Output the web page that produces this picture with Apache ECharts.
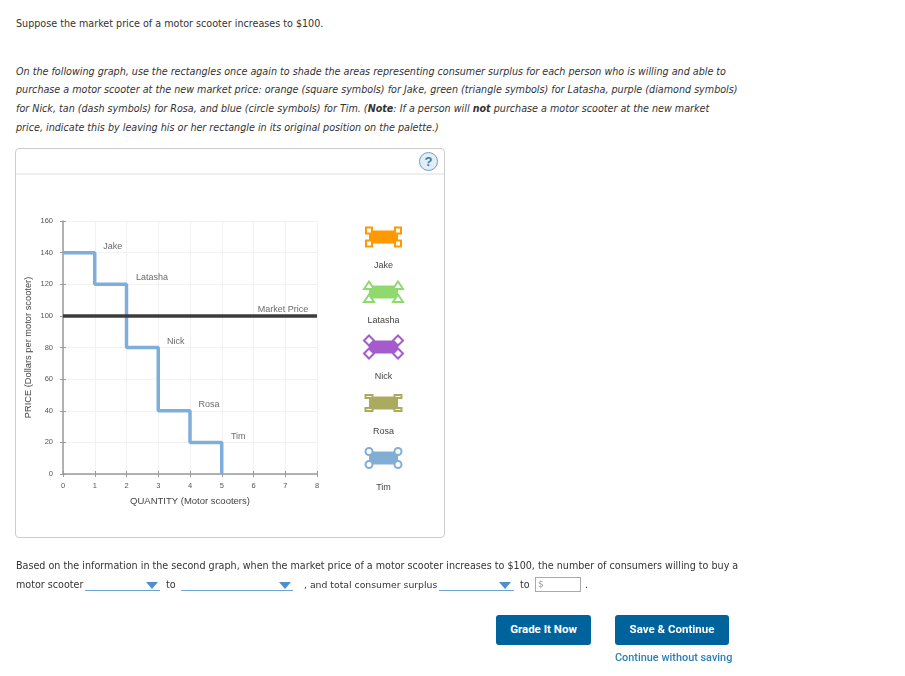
<!DOCTYPE html>
<html>
<head>
<meta charset="utf-8">
<script src="https://cdn.jsdelivr.net/npm/echarts@6/dist/echarts.min.js"></script>
<style>
  html, body { margin: 0; padding: 0; background: #fff; }
  body { width: 905px; height: 676px; position: relative; overflow: hidden; font-family: "DejaVu Sans", sans-serif; color: #333; filter: blur(0.35px); }
  .line { position: absolute; left: 16px; font-size: 9.6px; line-height: 14px; white-space: nowrap; }
  .it { font-style: italic; }
  #panel { position: absolute; left: 15px; top: 148px; width: 428px; height: 388px; border: 1px solid #ccc; border-radius: 4px; }
  #panelHead { position: absolute; left: 0; right: 0; top: 24px; border-top: 2px solid #eee; }
  #help { position: absolute; left: 403px; top: 3px; width: 17px; height: 17px; border: 1.5px solid #6f9fc8; border-radius: 50%; background: #e3edf6; color: #3b78a8; font: bold 13px/17px "Liberation Sans", sans-serif; text-align: center; }
  #chart { position: absolute; left: 0; top: 0; width: 905px; height: 676px; }
  .drop { position: absolute; top: 590px; height: 0; border-top: 1px solid #6fa3d4; }
  .arrow { position: absolute; top: 582px; width: 0; height: 0; border-left: 6px solid transparent; border-right: 6px solid transparent; border-top: 7px solid #4f90cc; }
  #amount { position: absolute; left: 535px; top: 577px; width: 42px; height: 13px; border: 1px solid #aaa; font-size: 9px; line-height: 13px; color: #999; padding-left: 2px; }
  .btn { position: absolute; top: 615px; height: 30px; background: #00639b; border-radius: 3px; color: #fff; font: bold 11.5px/29px Roboto, sans-serif; text-align: center; }
  #skip { position: absolute; left: 615px; top: 651px; font: 500 10.9px/13px Roboto, sans-serif; color: #2d7fb3; white-space: nowrap; }
</style>
</head>
<body>
  <div class="line" style="top:17px">Suppose the market price of a motor scooter increases to $100.</div>
  <div class="line it" style="top:65px">On the following graph, use the rectangles once again to shade the areas representing consumer surplus for each person who is willing and able to</div>
  <div class="line it" style="top:83px">purchase a motor scooter at the new market price: orange (square symbols) for Jake, green (triangle symbols) for Latasha, purple (diamond symbols)</div>
  <div class="line it" style="top:102px">for Nick, tan (dash symbols) for Rosa, and blue (circle symbols) for Tim. (<b>Note</b>: If a person will <b>not</b> purchase a motor scooter at the new market</div>
  <div class="line it" style="top:121px">price, indicate this by leaving his or her rectangle in its original position on the palette.)</div>

  <div id="panel"><div id="panelHead"></div><div id="help">?</div></div>
  <div id="chart"></div>

  <div class="line" style="top:559px">Based on the information in the second graph, when the market price of a motor scooter increases to $100, the number of consumers willing to buy a</div>
  <div class="line" style="top:578px">motor scooter</div>
  <div class="drop" style="left:85px;width:75px"></div><div class="arrow" style="left:146px"></div>
  <div class="line" style="top:578px;left:166px">to</div>
  <div class="drop" style="left:181px;width:112px"></div><div class="arrow" style="left:279px"></div>
  <div class="line" style="top:578px;left:304px;font-size:9.3px">, and total consumer surplus</div>
  <div class="drop" style="left:439px;width:75px"></div><div class="arrow" style="left:499px"></div>
  <div class="line" style="top:578px;left:520px">to</div>
  <div id="amount">$</div>
  <div class="line" style="top:578px;left:585px">.</div>

  <div class="btn" style="left:496px;width:95px">Grade It Now</div>
  <div class="btn" style="left:615px;width:114px">Save &amp; Continue</div>
  <div id="skip">Continue without saving</div>

<script>
// demand steps
const stepQuantity = [0, 1, 1, 2, 2, 3, 3, 4, 4, 5, 5];
const stepPrice = [140, 140, 120, 120, 80, 80, 40, 40, 20, 20, 0];

// market price line
const marketQuantity = [0, 8];
const marketPrice = [100, 100];

// names on the curve
const people = ['Jake', 'Latasha', 'Nick', 'Rosa', 'Tim', 'Market Price'];
const labelQuantity = [1.57, 2.8, 3.55, 4.6, 5.52, 6.93];
const labelPrice = [144, 124, 84, 44, 24, 104];

// palette on the right
const paletteNames = ['Jake', 'Latasha', 'Nick', 'Rosa', 'Tim'];
const paletteColors = ['#FF9900', '#8FD96F', '#A55BCB', '#ABAB60', '#82AED6'];
const paletteShapes = ['square', 'triangle', 'diamond', 'dash', 'circle'];
const paletteY = [237, 292, 347, 403, 458];
const paletteLabelY = [266, 321, 377, 432, 488];

const pairs = (xs, ys) => xs.map((x, i) => [x, ys[i]]);

function handle(shape, x, y, color) {
  const style = { fill: '#fff', stroke: color, lineWidth: 2 };
  if (shape === 'square') {
    return { type: 'rect', shape: { x: x - 3, y: y - 3, width: 6, height: 6 }, style };
  }
  if (shape === 'circle') {
    return { type: 'circle', shape: { cx: x, cy: y, r: 3.5 }, style };
  }
  if (shape === 'dash') {
    return { type: 'rect', shape: { x: x - 3.5, y: y - 1.5, width: 7, height: 3 }, style };
  }
  if (shape === 'triangle') {
    return { type: 'polygon', shape: { points: [[x, y - 4], [x + 5, y + 3.5], [x - 5, y + 3.5]] }, style };
  }
  return { type: 'polygon', shape: { points: [[x, y - 5], [x + 5, y], [x, y + 5], [x - 5, y]] }, style };
}

const palette = [];
paletteNames.forEach((name, i) => {
  const cx = 383.5, cy = paletteY[i], color = paletteColors[i];
  palette.push({ type: 'rect', shape: { x: cx - 14.5, y: cy - 6.5, width: 29, height: 13 }, style: { fill: color } });
  [[-14.5, -6.5], [14.5, -6.5], [-14.5, 6.5], [14.5, 6.5]].forEach(o => {
    palette.push(handle(paletteShapes[i], cx + o[0], cy + o[1], color));
  });
  palette.push({
    type: 'text', x: cx, y: paletteLabelY[i],
    style: { text: name, fill: '#444', font: '9px "Liberation Sans"', align: 'center', verticalAlign: 'middle' },
  });
});

const chart = echarts.init(document.getElementById('chart'));
chart.setOption({
  animation: false,
  backgroundColor: 'transparent',
  grid: { left: 63, top: 221, width: 254, height: 253 },
  textStyle: { fontFamily: '"Liberation Sans"' },
  xAxis: [
    {
      type: 'value', min: 0, max: 8, interval: 1,
      name: 'QUANTITY (Motor scooters)', nameLocation: 'middle', nameGap: 22,
      nameTextStyle: { fontSize: 9.5, color: '#444' },
      axisLine: { onZero: false, lineStyle: { color: '#999', width: 1.5 } },
      axisTick: { length: 3, lineStyle: { color: '#999' } },
      axisLabel: { fontSize: 7.5, color: '#555', margin: 8 },
      splitLine: { lineStyle: { color: '#f2f2f2' } },
    },
    // second axis only for the inner half of the ticks
    {
      type: 'value', position: 'bottom', min: 0, max: 8, interval: 1,
      axisLine: { show: false }, axisLabel: { show: false }, splitLine: { show: false },
      axisTick: { inside: true, length: 3, lineStyle: { color: '#999' } },
    },
  ],
  yAxis: [
    {
      type: 'value', min: 0, max: 160, interval: 20,
      name: 'PRICE (Dollars per motor scooter)', nameLocation: 'middle', nameGap: 30,
      nameTextStyle: { fontSize: 9.3, color: '#444' },
      axisLine: { onZero: false, lineStyle: { color: '#999', width: 1.5 } },
      axisTick: { length: 3, lineStyle: { color: '#999' } },
      axisLabel: { fontSize: 7.5, color: '#555', margin: 10 },
      splitLine: { lineStyle: { color: '#f2f2f2' } },
    },
    {
      type: 'value', position: 'left', min: 0, max: 160, interval: 20,
      axisLine: { show: false }, axisLabel: { show: false }, splitLine: { show: false },
      axisTick: { inside: true, length: 3, lineStyle: { color: '#999' } },
    },
  ],
  series: [
    {
      type: 'line', data: pairs(stepQuantity, stepPrice), showSymbol: false,
      lineStyle: { color: '#7FAEDB', width: 3.5 },
    },
    {
      type: 'line', data: pairs(marketQuantity, marketPrice), showSymbol: false,
      lineStyle: { color: '#3c3c3c', width: 3.5 },
    },
    {
      type: 'scatter', data: pairs(labelQuantity, labelPrice), symbolSize: 0,
      label: {
        show: true, position: 'inside', color: '#444', fontSize: 9,
        formatter: p => people[p.dataIndex],
      },
    },
  ],
  graphic: palette,
});
</script>
</body>
</html>
